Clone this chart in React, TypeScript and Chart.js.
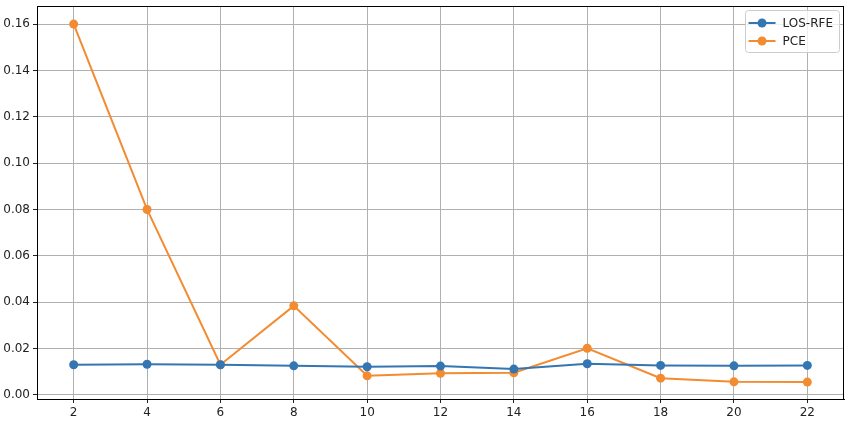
import React, { useEffect, useRef } from "react";
import { Chart, registerables } from "chart.js";

Chart.register(...registerables);

const xValues = [2, 4, 6, 8, 10, 12, 14, 16, 18, 20, 22];
const losRfe = [0.013, 0.0132, 0.013, 0.0125, 0.0121, 0.0124, 0.0111, 0.0134, 0.0127, 0.0125, 0.0127];
const pce = [0.16, 0.08, 0.013, 0.0384, 0.0082, 0.0093, 0.0095, 0.0201, 0.0072, 0.0056, 0.0055];
const yTicks = [0, 0.02, 0.04, 0.06, 0.08, 0.1, 0.12, 0.14, 0.16];
const xTicks = [2, 4, 6, 8, 10, 12, 14, 16, 18, 20, 22];

const BLUE = "#3476b2";
const ORANGE = "#f38b30";
const FONT = "DejaVu Sans";

const framePlugin = {
  id: "frame",
  afterDraw(chart: any) {
    const { ctx, chartArea: a } = chart;
    ctx.save();
    ctx.strokeStyle = "#000";
    ctx.lineWidth = 1;
    ctx.strokeRect(Math.round(a.left) + 0.5, Math.round(a.top) + 0.5, Math.round(a.right - a.left) - 1, Math.round(a.bottom - a.top));
    ctx.restore();
  },
};

const legendPlugin = {
  id: "mplLegend",
  afterDraw(chart: any) {
    const { ctx, chartArea: a } = chart;
    const ds = chart.data.datasets;
    ctx.save();
    ctx.font = `12px '${FONT}'`;
    const maxW = Math.max(...ds.map((d: any) => ctx.measureText(d.label).width));
    const w = 38 + maxW + 6;
    const h = 42;
    const right = a.right - 5;
    const left = right - w;
    const top = a.top + 4;
    ctx.fillStyle = "rgba(255,255,255,0.8)";
    ctx.strokeStyle = "#cccccc";
    ctx.lineWidth = 1;
    ctx.beginPath();
    const r = 3;
    const L = Math.round(left) + 0.5, T = Math.round(top) + 0.5, W = Math.round(w), H = h;
    ctx.moveTo(L + r, T);
    ctx.lineTo(L + W - r, T);
    ctx.arcTo(L + W, T, L + W, T + r, r);
    ctx.lineTo(L + W, T + H - r);
    ctx.arcTo(L + W, T + H, L + W - r, T + H, r);
    ctx.lineTo(L + r, T + H);
    ctx.arcTo(L, T + H, L, T + H - r, r);
    ctx.lineTo(L, T + r);
    ctx.arcTo(L, T, L + r, T, r);
    ctx.closePath();
    ctx.fill();
    ctx.stroke();
    ds.forEach((d: any, i: number) => {
      const cy = top + 13 + i * 18;
      ctx.strokeStyle = d.borderColor;
      ctx.lineWidth = 2;
      ctx.beginPath();
      ctx.moveTo(left + 4, cy);
      ctx.lineTo(left + 31, cy);
      ctx.stroke();
      ctx.fillStyle = d.borderColor;
      ctx.beginPath();
      ctx.arc(left + 17.5, cy, 4.5, 0, Math.PI * 2);
      ctx.fill();
      ctx.fillStyle = "#222";
      ctx.textBaseline = "middle";
      ctx.textAlign = "left";
      ctx.fillText(d.label, left + 38, cy + 1);
    });
    ctx.restore();
  },
};

export default function App() {
  const ref = useRef<HTMLCanvasElement>(null);
  useEffect(() => {
    if (!ref.current) return;
    const mk = (label: string, vals: number[], color: string) => ({
      label,
      data: xValues.map((x, i) => ({ x, y: vals[i] })),
      borderColor: color,
      backgroundColor: color,
      borderWidth: 2,
      pointRadius: 4.5,
      pointHoverRadius: 4.5,
      pointBorderWidth: 0,
      tension: 0,
    });
    const chart = new Chart(ref.current, {
      type: "line",
      data: { datasets: [mk("LOS-RFE", losRfe, BLUE), mk("PCE", pce, ORANGE)] },
      options: {
        animation: false,
        responsive: false,
        layout: { padding: { top: 6, right: 6, left: 0, bottom: 0 } },
        plugins: { legend: { display: false }, tooltip: { enabled: false } },
        scales: {
          x: {
            type: "linear",
            min: 1,
            max: 23,
            afterBuildTicks: (s: any) => {
              s.ticks = xTicks.map((v) => ({ value: v }));
            },
            afterFit: (s: any) => {
              s.height = 26;
              s.paddingLeft = 0;
              s.paddingRight = 0;
            },
            ticks: {
              font: { family: FONT, size: 12 },
              color: "#222",
              padding: 3,
              maxRotation: 0,
              callback: (v: any) => String(v),
            },
            grid: { color: "#b0b0b0", lineWidth: 1, tickColor: "#222", tickLength: 4 },
            border: { display: true, color: "#000", width: 1 },
          },
          y: {
            type: "linear",
            min: -0.0018,
            max: 0.1678,
            afterBuildTicks: (s: any) => {
              s.ticks = yTicks.map((v) => ({ value: v }));
            },
            afterFit: (s: any) => {
              s.width = 37;
              s.paddingTop = 0;
              s.paddingBottom = 0;
            },
            ticks: {
              font: { family: FONT, size: 12 },
              color: "#222",
              padding: 3,
              callback: (v: any) => Number(v).toFixed(2),
            },
            grid: { color: "#b0b0b0", lineWidth: 1, tickColor: "#222", tickLength: 4 },
            border: { display: true, color: "#000", width: 1 },
          },
        },
      },
      plugins: [framePlugin, legendPlugin],
    });
    return () => chart.destroy();
  }, []);
  return (
    <div style={{ position: "absolute", left: 0, top: 0, width: 850, height: 425, background: "#fff" }}>
      <canvas ref={ref} width={850} height={425} style={{ width: 850, height: 425, display: "block" }} />
    </div>
  );
}
